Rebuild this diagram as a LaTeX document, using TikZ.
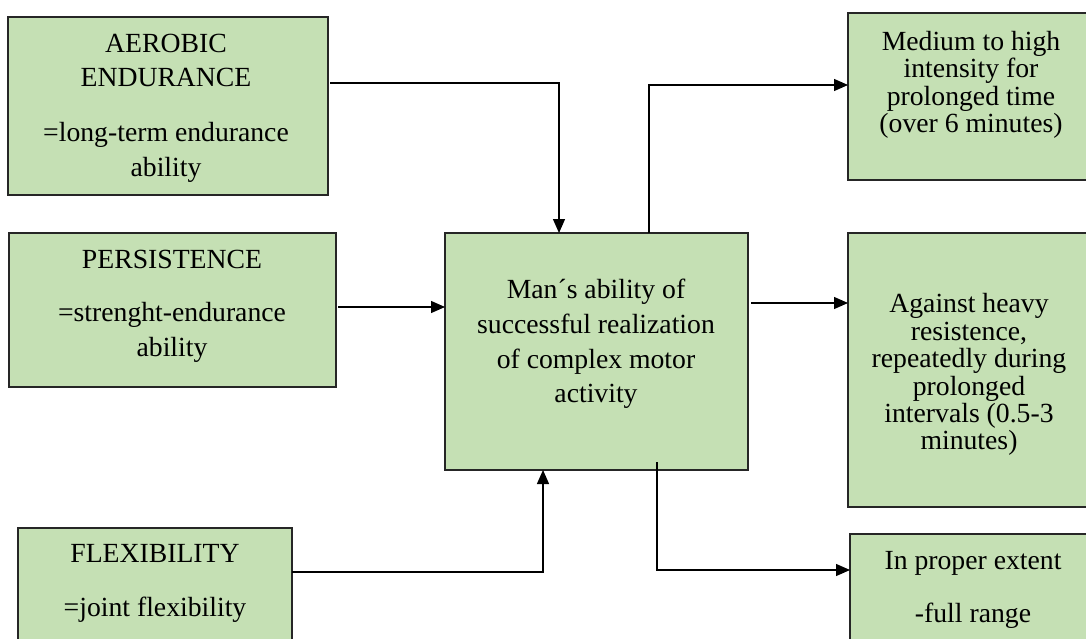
\documentclass[tikz,border=0pt]{standalone}
\usepackage{fontspec}
\setmainfont{Liberation Serif}
\usetikzlibrary{arrows.meta}
\definecolor{boxfill}{RGB}{197,224,180}
\definecolor{boxline}{RGB}{38,38,38}
\begin{document}
\begin{tikzpicture}[x=1pt,y=-1pt,
  box/.style={draw=boxline, line width=1.3pt, fill=boxfill, anchor=north west, inner sep=0pt, outer sep=0pt},
  txt/.style={anchor=north, inner sep=0pt, outer sep=0pt, align=center, text=black, font=\rmfamily\fontsize{27.7}{34.7}\selectfont},
  txts/.style={txt, font=\rmfamily\fontsize{27.7}{27.4}\selectfont},
  conn/.style={draw=black, line width=1.3pt},
  arr/.style={conn, -{Triangle[length=14pt,width=12pt]}}]
\useasboundingbox (0,0) rectangle (1086,639);
\clip (0,0) rectangle (1086,639);
% boxes
\node[box, minimum width=320, minimum height=178] (aer) at (8,17) {};
\node[box, minimum width=327, minimum height=154] (pers) at (9,233) {};
\node[box, minimum width=274, minimum height=180] (flex) at (18,528) {};
\node[box, minimum width=303, minimum height=237] (c) at (445,233) {};
\node[box, minimum width=260, minimum height=167] (r1) at (848,13) {};
\node[box, minimum width=260, minimum height=274] (r2) at (848,233) {};
\node[box, minimum width=260, minimum height=180] (r3) at (850,534) {};
% texts
\node[txt] (aert) at (166,33.7) {AEROBIC\\ENDURANCE\\[20pt]=long-term endurance\\ability};
\node[txt] (perst) at (172,249.7) {PERSISTENCE\\[19pt]=strenght-endurance\\ability};
\node[txt] (flext) at (155,544.7) {FLEXIBILITY\\[19pt]=joint flexibility};
\node[txt] (ct) at (596,279.3) {Man\char"00B4 s ability of\\successful realization\\of complex motor\\activity};
\node[txts] (r1t) at (971,31.2) {Medium to high\\intensity for\\prolonged time\\(over 6 minutes)};
\node[txts] (r2t) at (969,293.7) {Against heavy\\resistence,\\repeatedly during\\prolonged\\intervals (0.5-3\\minutes)};
\node[txt] (r3t) at (973,551.7) {In proper extent\\[18.3pt]-full range};
% connectors
\draw[arr] ([xshift=2pt]aer.east |- 0,83) -| (c.north -| 559,0);
\draw[arr] ([xshift=2pt]pers.east |- 0,307) -- (c.west |- 0,307);
\draw[arr] (flex.east |- 0,572) -| (c.south -| 543,0);
\draw[arr] (c.north -| 649,0) |- (r1.west |- 0,85);
\draw[arr] ([xshift=3pt]c.east |- 0,303) -- (r2.west |- 0,303);
\draw[arr] ([yshift=8pt]c.south -| 657,0) |- (r3.west |- 0,570);
\end{tikzpicture}
\end{document}
